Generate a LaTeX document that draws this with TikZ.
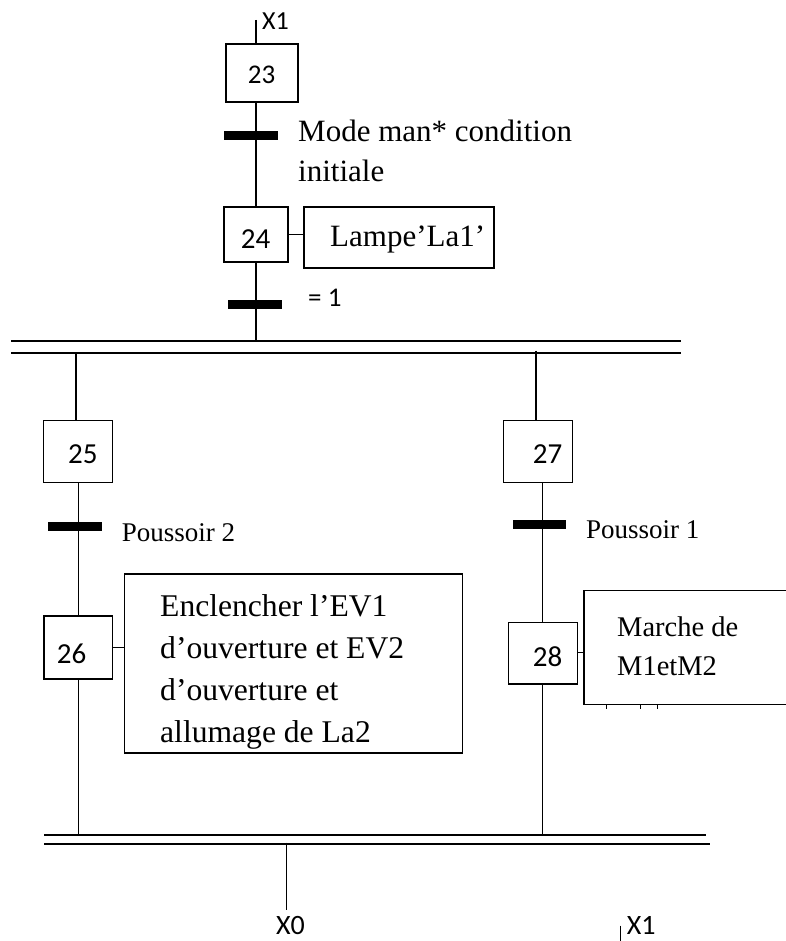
\documentclass[tikz,border=0pt]{standalone}
\usepackage{fontspec}
\setmainfont{Liberation Serif}
\newfontfamily\calfont{Carlito}
\begin{document}
\begin{tikzpicture}[x=1pt,y=-1pt,
  thin line/.style={line width=1.3pt},
  bus/.style={line width=1.7pt},
  stepbox/.style={draw,line width=1.3pt,inner sep=0pt,minimum width=#1},
  trbar/.style={fill=black,inner sep=0pt,minimum width=54pt,minimum height=9pt},
  num/.style={anchor=base west,inner sep=0pt,font=\calfont\fontsize{29}{30}\selectfont},
  lbl/.style={anchor=base west,inner sep=0pt}]
\useasboundingbox (0,0) rectangle (785,941);
% boxes
\node[stepbox=72pt,minimum height=58pt] (s23) at (262,73) {};
\node[stepbox=64pt,minimum height=55pt] (s24) at (256,234.5) {};
\node[stepbox=190pt,minimum height=61pt] (a24) at (399,237.5) {};
\node[stepbox=69.4pt,minimum height=62pt] (s25) at (78,451.7) {};
\node[stepbox=69.4pt,minimum height=62pt] (s27) at (538,451.7) {};
\node[stepbox=68.3pt,minimum height=63pt] (s26) at (78.2,647.5) {};
\node[stepbox=338.2pt,minimum height=179pt] (a26) at (293.4,663.5) {};
\node[stepbox=69pt,minimum height=61.3pt] (s28) at (542.8,653.3) {};
% numbers
\node[num,font=\calfont\fontsize{27}{28}\selectfont] (n23) at (247.7,83.3) {23};
\node[num] (n24) at (240.7,248.3) {24};
\node[num] (n25) at (68,463.3) {25};
\node[num] (n27) at (532.7,463.3) {27};
\node[num] (n26) at (56.7,663.3) {26};
\node[num] (n28) at (532.7,666.7) {28};
% coordinates
\coordinate (xtop) at (256,20);
\coordinate (bus1a) at (256,340.7);
\coordinate (lA) at (76,352.7);
\coordinate (lx) at (78.7,0);
\coordinate (rA) at (536,350.7);
\coordinate (rx) at (542.3,0);
\coordinate (botL) at (78.7,835);
\coordinate (botR) at (542.3,835);
\coordinate (bout) at (286.7,842.7);
\coordinate (boutend) at (286.7,910);
\coordinate (x1tick) at (620,925.7);
\coordinate (x1tickend) at (620,941);
% top chain
\draw[thin line] (xtop) -- (xtop |- s23.north);
\draw[thin line] (s23.south -| s24.north) -- (s24.north);
\draw[thin line] (s24.south) -- (bus1a);
\draw[thin line] (s24.east) -- (s24.east -| a24.west);
\node[trbar] (t1) at (251.3,136) {};
\node[trbar] (t2) at (255,304) {};
% top bus
\draw[bus] (11,340.7) -- (680.7,340.7);
\draw[bus] (11,352.7) -- (680.7,352.7);
% left branch
\draw[thin line] (lA) -- (lA |- s25.north);
\draw[thin line] (s25.south -| lx) -- (s26.north -| lx);
\draw[thin line] (s26.south -| lx) -- (botL);
\draw[thin line] (s26.east) -- (s26.east -| a26.west);
\node[trbar,minimum width=53.4pt] (t25) at (75,526) {};
% right branch
\draw[thin line] (rA) -- (rA |- s27.north);
\draw[thin line] (s27.south -| rx) -- (s28.north -| rx);
\draw[thin line] (s28.south -| rx) -- (botR);
\coordinate (mW) at (584,652.3);
\draw[thin line] (s28.east |- mW) -- (mW);
\node[trbar,minimum width=53.3pt] (t27) at (539.3,524.5) {};
% open action box of step 28
\draw[thin line] (790,590.7) -- (584,590.7) -- (584,704.3) -- (790,704.3);
\draw[line width=1pt] (606,704.3) -- (606,709) (640,704.3) -- (640,709) (657.7,704.3) -- (657.7,709);
% bottom bus
\draw[bus] (44,835) -- (706,835);
\draw[bus] (44,844.3) -- (710,844.3);
\draw[thin line] (bout) -- (boutend);
\draw[line width=1pt] (x1tick) -- (x1tickend);
% texts
\node[lbl,font=\calfont\fontsize{26}{28}\selectfont] (lx1top) at (262,30) {X1};
\node[lbl,align=left,font=\fontsize{31}{40}\selectfont] (c1) at (298,182) {Mode man* condition\\initiale};
\node[lbl,font=\fontsize{31}{34}\selectfont] (la1) at (330,246.7) {Lampe’La1’};
\node[lbl,font=\calfont\fontsize{27}{28}\selectfont] (c2) at (308,306) {= 1};
\node[lbl,font=\fontsize{27}{30}\selectfont] (c25) at (121.7,541.7) {Poussoir 2};
\node[lbl,font=\fontsize{27}{30}\selectfont] (c27) at (586,538.3) {Poussoir 1};
\node[lbl,align=left,font=\fontsize{31.6}{42}\selectfont] (t26) at (160,742) {Enclencher l’EV1\\d’ouverture et EV2\\d’ouverture et\\allumage de La2};
\node[lbl,align=left,font=\fontsize{28.5}{39}\selectfont] (t28) at (617,675) {Marche de\\M1etM2};
\node[lbl,font=\calfont\fontsize{28}{30}\selectfont] (lx0) at (276,934) {X0};
\node[lbl,font=\calfont\fontsize{28}{30}\selectfont] (lx1bot) at (626.7,934.5) {X1};
\end{tikzpicture}
\end{document}
